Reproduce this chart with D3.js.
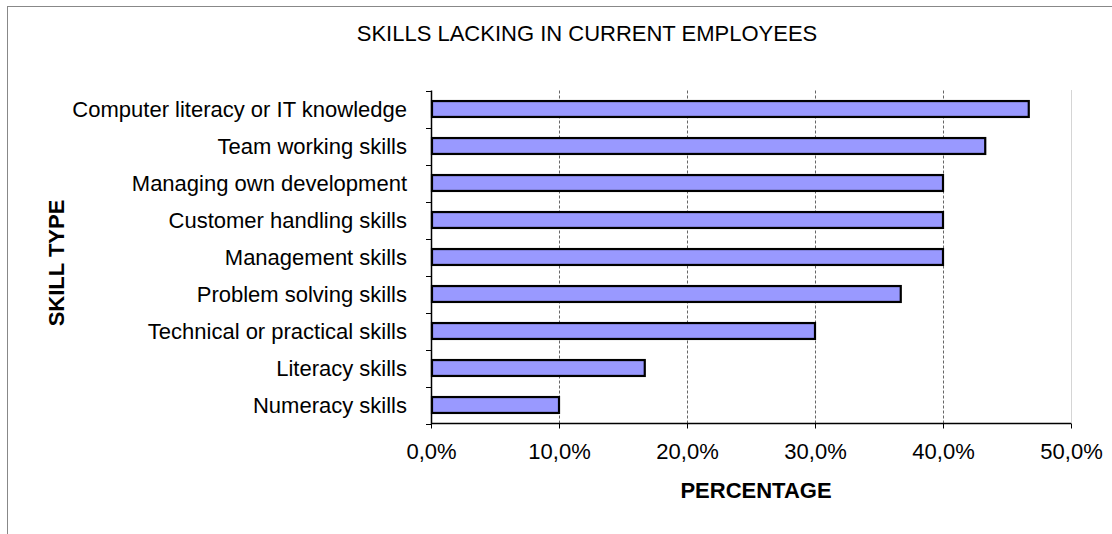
<!DOCTYPE html>
<html>
<head>
<meta charset="utf-8">
<script src="https://cdn.jsdelivr.net/npm/d3@7"></script>
<style>
  body { margin: 0; background: #fff; }
  text { font-family: "Liberation Sans", Arial, sans-serif; }
</style>
</head>
<body>
<svg id="chart" width="1112" height="534"></svg>
<script>
// skills, top to bottom
var skills = [
    "Computer literacy or IT knowledge",
    "Team working skills",
    "Managing own development",
    "Customer handling skills",
    "Management skills",
    "Problem solving skills",
    "Technical or practical skills",
    "Literacy skills",
    "Numeracy skills"
];
var percents = [46.7, 43.3, 40.0, 40.0, 40.0, 36.7, 30.0, 16.7, 10.0];
var xTicks = [0, 10, 20, 30, 40, 50];

var svg = d3.select("#chart");

var plotLeft = 431, plotRight = 1071, plotTop = 90.5, plotBottom = 423.5;
var fontSize = 22;

// outer frame
svg.append("rect")
    .attr("x", 7.5).attr("y", 6.5)
    .attr("width", 1112).attr("height", 540)
    .attr("fill", "none")
    .attr("stroke", "#888")
    .attr("stroke-width", 1);

var x = d3.scaleLinear().domain([0, 50]).range([plotLeft, plotRight]);
var y = d3.scaleBand().domain(skills).range([plotTop, plotBottom]).paddingInner(0.57).paddingOuter(0.285);

// gridlines
svg.append("g")
    .selectAll("line")
    .data(xTicks.slice(1))
    .enter()
    .append("line")
    .attr("x1", function (d) { return Math.round(x(d)) + 0.5; })
    .attr("x2", function (d) { return Math.round(x(d)) + 0.5; })
    .attr("y1", plotTop)
    .attr("y2", plotBottom)
    .attr("stroke", function (d) { return d === 50 ? "#aaa" : "#666"; })
    .attr("stroke-width", 1)
    .attr("stroke-dasharray", function (d) { return d === 50 ? "1,1" : "3,2"; });

// bars
svg.append("g")
    .selectAll("rect")
    .data(skills)
    .enter()
    .append("rect")
    .attr("x", x(0) + 1)
    .attr("y", function (d) { return y(d); })
    .attr("width", function (d, i) { return x(percents[i]) - x(0) - 1; })
    .attr("height", y.bandwidth())
    .attr("fill", "#9999FF")
    .attr("stroke", "#000")
    .attr("stroke-width", 2.2);

// y axis line and ticks at category boundaries
var yAxisG = svg.append("g");
yAxisG.append("line")
    .attr("x1", plotLeft + 0.5).attr("x2", plotLeft + 0.5)
    .attr("y1", plotTop).attr("y2", plotBottom + 0.5)
    .attr("stroke", "#000").attr("stroke-width", 1.5);
var step = (plotBottom - plotTop) / skills.length;
yAxisG.selectAll("line.tick")
    .data(d3.range(skills.length + 1))
    .enter()
    .append("line")
    .attr("class", "tick")
    .attr("x1", plotLeft - 5).attr("x2", plotLeft)
    .attr("y1", function (i) { return Math.round(plotTop + i * step) + 0.5; })
    .attr("y2", function (i) { return Math.round(plotTop + i * step) + 0.5; })
    .attr("stroke", "#000");

yAxisG.selectAll("text")
    .data(skills)
    .enter()
    .append("text")
    .attr("x", 407)
    .attr("y", function (d) { return y(d) + y.bandwidth() / 2; })
    .attr("dy", "0.35em")
    .attr("text-anchor", "end")
    .attr("font-size", fontSize)
    .attr("fill", "#000")
    .text(function (d) { return d; });

// x axis
var xAxis = d3.axisBottom(x)
    .tickValues(xTicks)
    .tickSize(5)
    .tickPadding(15)
    .tickFormat(function (d) { return d3.format(".1f")(d).replace(".", ",") + "%"; });

var xg = svg.append("g")
    .attr("transform", "translate(0," + plotBottom + ")")
    .call(xAxis);
xg.select(".domain").attr("stroke", "#000").attr("stroke-width", 1.5)
    .attr("d", "M" + plotLeft + ",0H" + plotRight);
xg.selectAll(".tick line").attr("stroke", "#000");
xg.selectAll(".tick text")
    .attr("font-size", fontSize)
    .attr("font-family", "Liberation Sans, Arial, sans-serif")
    .attr("fill", "#000");

// titles
svg.append("text")
    .attr("x", 587).attr("y", 41)
    .attr("text-anchor", "middle")
    .attr("font-size", fontSize)
    .text("SKILLS LACKING IN CURRENT EMPLOYEES");

svg.append("text")
    .attr("x", 756).attr("y", 498)
    .attr("text-anchor", "middle")
    .attr("font-size", fontSize)
    .attr("font-weight", "bold")
    .text("PERCENTAGE");

svg.append("text")
    .attr("transform", "translate(64,263) rotate(-90)")
    .attr("text-anchor", "middle")
    .attr("font-size", fontSize)
    .attr("font-weight", "bold")
    .text("SKILL TYPE");
</script>
</body>
</html>
